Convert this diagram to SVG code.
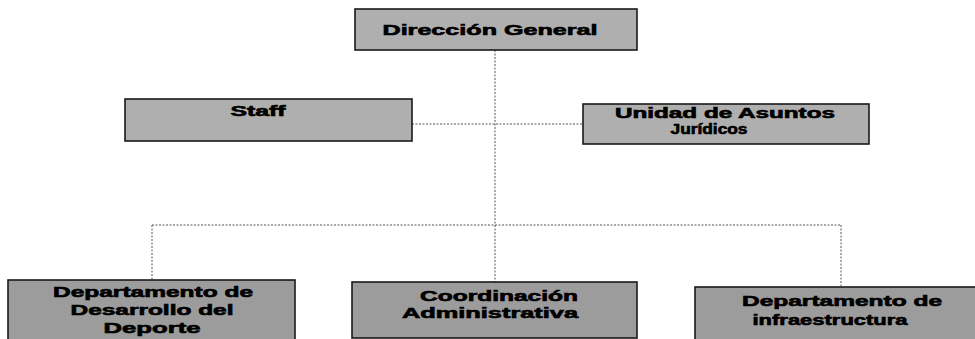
<svg xmlns="http://www.w3.org/2000/svg" width="975" height="339" viewBox="0 0 975 339">
<defs>
<style>
.box{fill:#afafaf;stroke:#1a1a1a;stroke-width:1.6}
.dark{fill:#9c9c9c}
.t{font-family:"Liberation Sans",Arial,sans-serif;font-weight:bold;font-size:14px;fill:#000;stroke:#000;stroke-width:0.6;text-anchor:middle}
.c{stroke:#555;stroke-width:1;stroke-dasharray:2 1.5;fill:none}
</style>
</defs>
<rect width="975" height="339" fill="#fff"/>
<g id="connectors">
<line class="c" x1="495" y1="50" x2="495" y2="282"/>
<line class="c" x1="412" y1="124" x2="583" y2="124"/>
<line class="c" x1="152" y1="225" x2="841" y2="225"/>
<line class="c" x1="152" y1="225" x2="152" y2="280"/>
<line class="c" x1="841" y1="225" x2="841" y2="287"/>
</g>
<g id="direccion">
<rect class="box" x="355" y="9" width="282" height="41"/>
<text class="t" x="490" y="35" textLength="215" lengthAdjust="spacingAndGlyphs">Dirección General</text>
</g>
<g id="staff">
<rect class="box" x="125" y="99" width="287" height="42"/>
<text class="t" x="258" y="116" textLength="55" lengthAdjust="spacingAndGlyphs">Staff</text>
</g>
<g id="unidad">
<rect class="box" x="583" y="104" width="286" height="40"/>
<text class="t" x="725" y="118" textLength="220" lengthAdjust="spacingAndGlyphs">Unidad de Asuntos</text>
<text class="t" x="709" y="134" textLength="77" lengthAdjust="spacingAndGlyphs">Jurídicos</text>
</g>
<g id="desarrollo">
<rect class="box dark" x="8" y="280" width="287" height="62"/>
<text class="t" x="153" y="297" textLength="200" lengthAdjust="spacingAndGlyphs">Departamento de</text>
<text class="t" x="152" y="315" textLength="163" lengthAdjust="spacingAndGlyphs">Desarrollo del</text>
<text class="t" x="152" y="333" textLength="97" lengthAdjust="spacingAndGlyphs">Deporte</text>
</g>
<g id="coordinacion">
<rect class="box dark" x="352" y="282" width="285" height="56"/>
<text class="t" x="499" y="301" textLength="158" lengthAdjust="spacingAndGlyphs">Coordinación</text>
<text class="t" x="490" y="318" textLength="176" lengthAdjust="spacingAndGlyphs">Administrativa</text>
</g>
<g id="infraestructura">
<rect class="box dark" x="695" y="287" width="285" height="55"/>
<text class="t" x="842" y="306" textLength="200" lengthAdjust="spacingAndGlyphs">Departamento de</text>
<text class="t" x="830" y="325" textLength="155" lengthAdjust="spacingAndGlyphs">infraestructura</text>
</g>
</svg>
